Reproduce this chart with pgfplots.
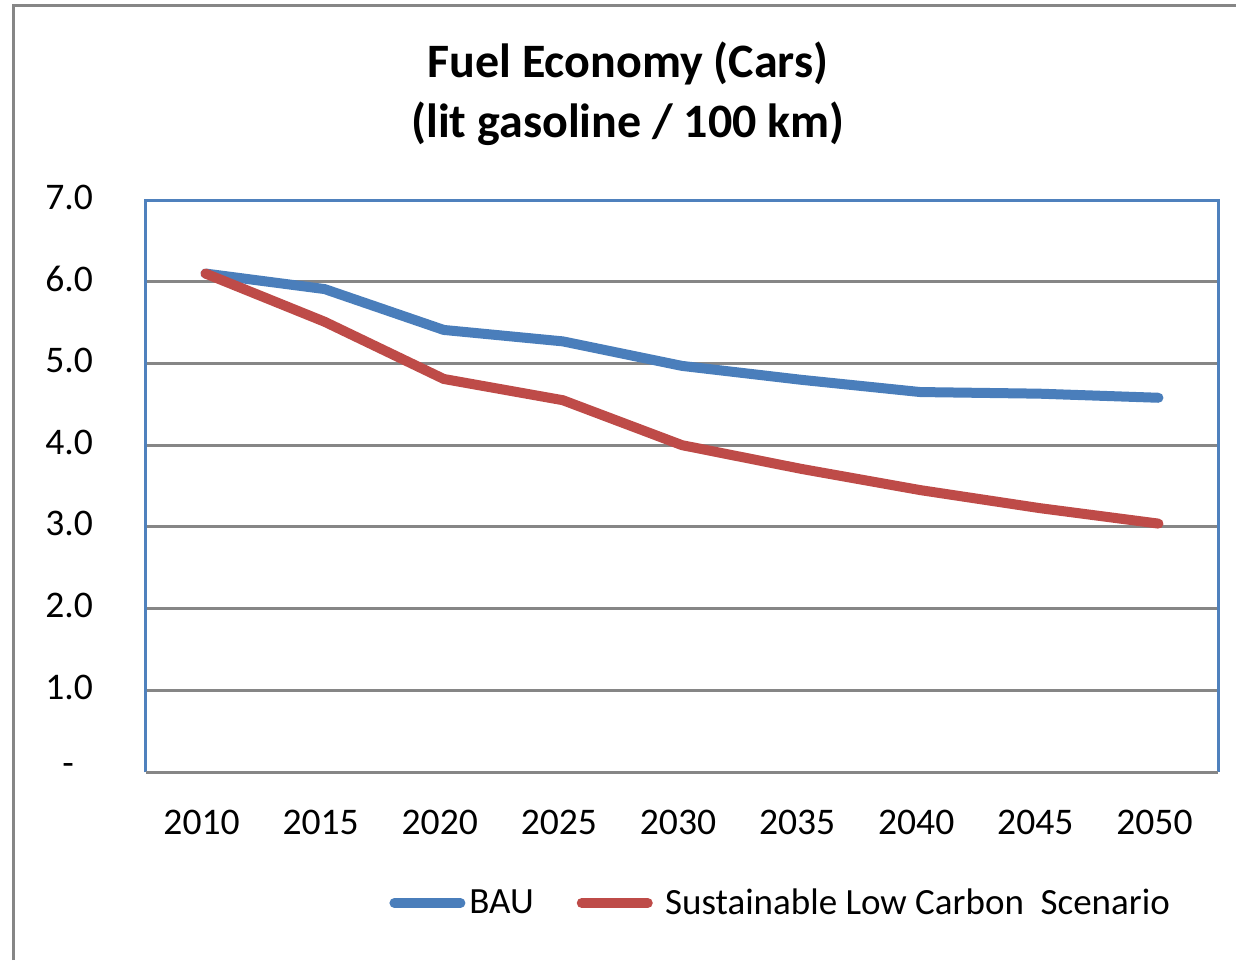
\documentclass[border=0pt]{standalone}
\usepackage{pgfplots}
\pgfplotsset{compat=1.18}
\usepackage{fontspec}
\setmainfont{Carlito}
\definecolor{bau}{HTML}{4A7EBB}
\definecolor{slc}{HTML}{BE4B48}
\definecolor{frameblue}{HTML}{4F81BD}
\definecolor{gridgray}{HTML}{868686}
\begin{document}
\begin{tikzpicture}
\path[use as bounding box] (0,0) rectangle (618pt,-480pt);
\draw[gridgray, line width=1.5pt] (6.75pt,-480pt) -- (6.75pt,-2.5pt) -- (618pt,-2.5pt);
\begin{axis}[
  at={(73pt,-386pt)}, anchor=south west,
  scale only axis, width=536pt, height=286pt,
  xmin=-0.5, xmax=8.5, ymin=0, ymax=7,
  xtick={0,...,8},
  xticklabels={2010,2015,2020,2025,2030,2035,2040,2045,2050},
  ytick={0,...,7},
  yticklabels={\hphantom{0}-\hphantom{0},1.0,2.0,3.0,4.0,5.0,6.0,7.0},
  tick style={draw=none},
  ticklabel style={font=\fontsize{18.8}{22}\selectfont},
  yticklabel style={xshift=-23pt, yshift=1.5pt},
  xticklabel style={yshift=-15.5pt, xshift=-2pt},
  ymajorgrids, grid style={gridgray, line width=1.5pt},
  axis line style={frameblue, line width=1.5pt},
  axis x line*=bottom, axis y line*=left,
  clip=false,
  title={Fuel Economy (Cars)\\(lit gasoline / 100 km)},
  title style={at={(0.4496,1.164)}, anchor=center, align=center,
    font=\fontsize{24}{30}\selectfont\bfseries},
  legend columns=2,
  legend style={draw=none, fill=none, at={(0.2267,-0.229)}, anchor=west,
    inner sep=0pt, font=\fontsize{18.5}{22}\selectfont,
    /tikz/every even column/.append style={column sep=19.5pt}},
  legend image code/.code={\draw[#1, line cap=round] (0pt,0pt) -- (33pt,0pt);},
]
\draw[frameblue, line width=1.5pt] (rel axis cs:0,0) -- (rel axis cs:0,1) -- (rel axis cs:1,1) -- (rel axis cs:1,0);
\draw[gridgray, line width=1.5pt] (rel axis cs:0,0) -- (rel axis cs:1,0);
\addplot[bau, line width=5pt, line join=round, line cap=round] coordinates {
(0,6.10) (1,5.91) (2,5.41) (3,5.27) (4,4.97) (5,4.80) (6,4.65) (7,4.63) (8,4.58)};
\addlegendentry{BAU}
\addplot[slc, line width=5pt, line join=round, line cap=round] coordinates {
(0,6.10) (1,5.51) (2,4.81) (3,4.55) (4,4.00) (5,3.71) (6,3.45) (7,3.23) (8,3.04)};
\addlegendentry{\ Sustainable Low Carbon\ \ Scenario}
\end{axis}
\end{tikzpicture}
\end{document}
